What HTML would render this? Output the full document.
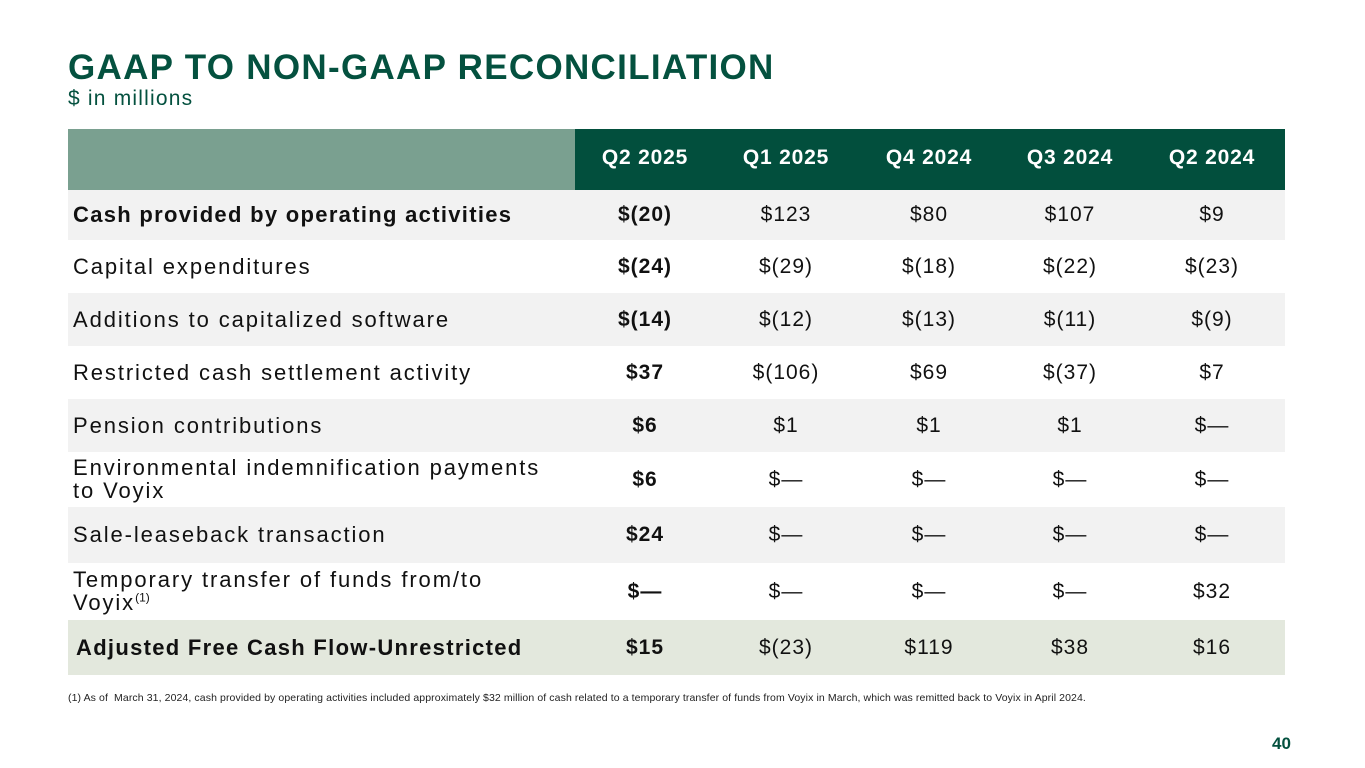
<!DOCTYPE html>
<html><head><meta charset="utf-8"><style>
body{margin:0;width:1365px;height:768px;background:#fff;font-family:"Liberation Sans",sans-serif;position:relative;overflow:hidden}
.t{position:absolute;left:68px;top:48px;font-size:35px;font-weight:bold;color:#04513f;letter-spacing:1.3px}
.s{position:absolute;left:68px;top:87px;font-size:21px;color:#04513f;letter-spacing:1.2px}
.row{position:absolute;left:68px;width:1217px}
.lab{position:absolute;left:5px;font-size:22px;color:#111;line-height:23px;letter-spacing:1.9px;white-space:nowrap}
.v{position:absolute;width:140px;text-align:center;font-size:21px;color:#111;letter-spacing:1px}
sup{font-size:12px;line-height:0;letter-spacing:0}
.fn{position:absolute;left:68px;top:692px;font-size:10.5px;color:#222;letter-spacing:0.1px}
.pg{position:absolute;left:1272px;top:734px;font-size:17px;font-weight:bold;color:#04513f}
</style></head><body>
<div class="t">GAAP TO NON-GAAP RECONCILIATION</div>
<div class="s">$ in millions</div>
<div id="tbl"></div>
<div class="fn">(1) As of &nbsp;March 31, 2024, cash provided by operating activities included approximately $32 million of cash related to a temporary transfer of funds from Voyix in March, which was remitted back to Voyix in April 2024.</div>
<div class="pg">40</div>
<script>
const periods=["Q2 2025","Q1 2025","Q4 2024","Q3 2024","Q2 2024"];
const labels=["Cash provided by operating activities","Capital expenditures","Additions to capitalized software","Restricted cash settlement activity","Pension contributions","Environmental indemnification payments<br>to Voyix","Sale-leaseback transaction","Temporary transfer of funds from/to<br>Voyix<sup>(1)</sup>","Adjusted Free Cash Flow-Unrestricted"];
const values=[["$(20)","$123","$80","$107","$9"],["$(24)","$(29)","$(18)","$(22)","$(23)"],["$(14)","$(12)","$(13)","$(11)","$(9)"],["$37","$(106)","$69","$(37)","$7"],["$6","$1","$1","$1","$—"],["$6","$—","$—","$—","$—"],["$24","$—","$—","$—","$—"],["$—","$—","$—","$—","$32"],["$15","$(23)","$119","$38","$16"]];
const bounds=[190,240,293,346,399,452,507,563,620,675];
const colC=[645,786,929,1070,1212];
const tbl=document.getElementById('tbl');
let h=document.createElement('div');h.className='row';h.style.top='129px';h.style.height='61px';h.style.background='#7aa090';


let d=document.createElement('div');d.style.cssText='position:absolute;left:507px;top:0;width:710px;height:61px;background:#024f3d';h.appendChild(d);
periods.forEach((p,i)=>{let e=document.createElement('div');e.className='v';e.textContent=p;


e.style.cssText+=`left:${colC[i]-68-70}px;top:17px;color:#fff;font-weight:bold;letter-spacing:0.8px`;h.appendChild(e);});
tbl.appendChild(h);
labels.forEach((l,r)=>{let row=document.createElement('div');row.className='row';


const top=bounds[r],ht=bounds[r+1]-top;row.style.top=top+'px';row.style.height=ht+'px';
row.style.background=r==8?'#e3e8dd':(r%2==0?'#f2f2f2':'#fff');
const bold=(r==0||r==8);const two=l.includes('<br>');
let lb=document.createElement('div');lb.className='lab';lb.innerHTML=l;


lb.style.top=(two?ht/2-24:ht/2-12)+'px';if(bold){lb.style.fontWeight='bold';lb.style.letterSpacing='1.3px';}if(r==8)lb.style.left='8px';
row.appendChild(lb);
values[r].forEach((v,i)=>{let e=document.createElement('div');e.className='v';e.textContent=v;


e.style.left=(colC[i]-68-70)+'px';e.style.top=(ht/2-12)+'px';if(i==0)e.style.fontWeight='bold';
row.appendChild(e);});
tbl.appendChild(row);});
</script>
</body></html>
